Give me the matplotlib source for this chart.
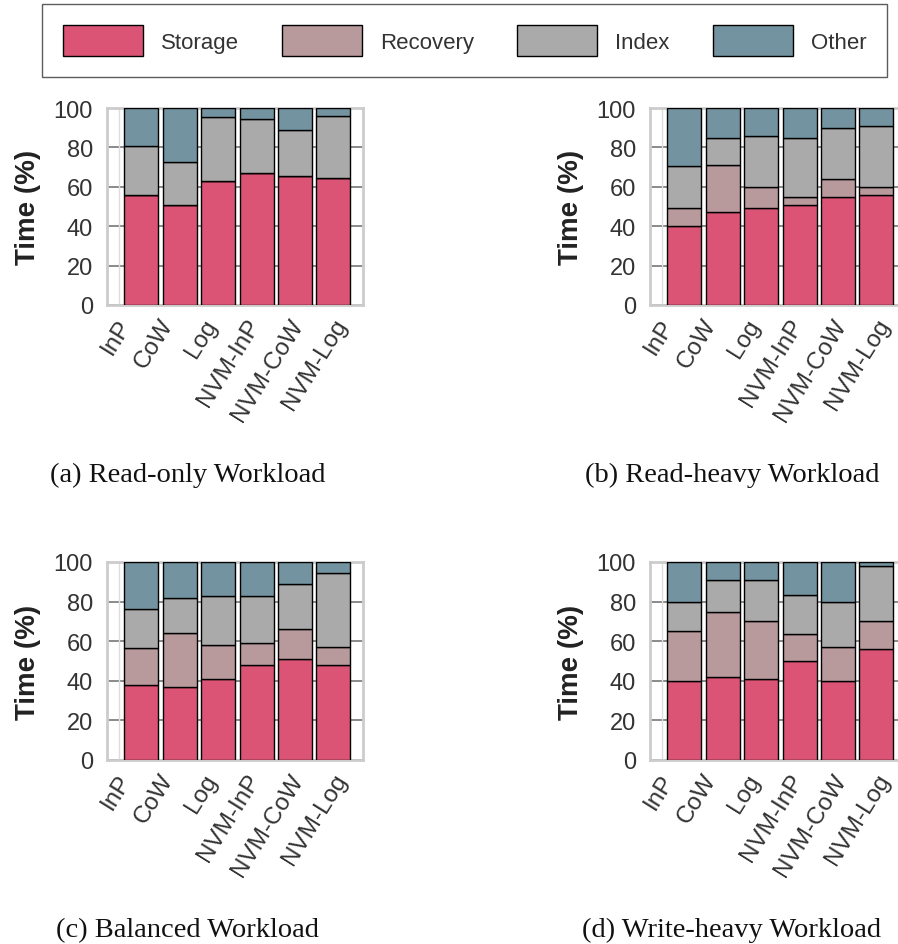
import matplotlib
matplotlib.use("Agg")
import matplotlib.pyplot as plt
import matplotlib.transforms as mtransforms
from matplotlib.patches import Patch
import numpy as np

plt.rcParams['font.family'] = ['Liberation Sans', 'DejaVu Sans']

categories = ["InP", "CoW", "Log", "NVM-InP", "NVM-CoW", "NVM-Log"]
components = ["Storage", "Recovery", "Index", "Other"]
colors = ["#DB5475", "#B89A9C", "#AAAAAA", "#7393A0"]

# (a) Read-only
a_storage = [56, 51, 63, 67, 65.5, 64.5]
a_recovery = [0, 0, 0, 0, 0, 0]
a_index = [24.5, 21.5, 32.5, 27.5, 23.5, 31.5]
a_other = [19.5, 27.5, 4.5, 5.5, 11, 4]

# (b) Read-heavy
b_storage = [40, 47, 49, 51, 55, 56]
b_recovery = [9, 24, 11, 4, 9, 4]
b_index = [21.5, 14, 26, 30, 26, 31]
b_other = [29.5, 15, 14, 15, 10, 9]

# (c) Balanced
c_storage = [38, 37, 41, 48, 51, 48]
c_recovery = [18.5, 27, 17, 11, 15, 9]
c_index = [20, 18, 25, 24, 23, 37.5]
c_other = [23.5, 18, 17, 17, 11, 5.5]

# (d) Write-heavy
d_storage = [40, 42, 41, 50, 40, 56]
d_recovery = [25, 33, 29, 13.5, 17, 14]
d_index = [15, 16, 21, 20, 23, 28]
d_other = [20, 9, 9, 16.5, 20, 2]

captions = ["(a) Read-only Workload", "(b) Read-heavy Workload",
            "(c) Balanced Workload", "(d) Write-heavy Workload"]
yticks = [0, 20, 40, 60, 80, 100]

panels = [
    [a_storage, a_recovery, a_index, a_other],
    [b_storage, b_recovery, b_index, b_other],
    [c_storage, c_recovery, c_index, c_other],
    [d_storage, d_recovery, d_index, d_other],
]

W, H = 898, 945
fig = plt.figure(figsize=(W / 100, H / 100), dpi=100)

# axes rectangles in pixels: left, top, width, height
rects = [(107, 109, 256, 197), (650, 109, 256, 197),
         (107, 563, 256, 198), (650, 563, 256, 198)]
ylabel_x = [28, 571, 28, 571]
cap_x = [188, 732, 188, 732]
cap_y = [482, 482, 937, 937]

x = np.arange(len(categories))
for i, (vals, (l, t, w, h)) in enumerate(zip(panels, rects)):
    ax = fig.add_axes([l / W, 1 - (t + h) / H, w / W, h / H])
    bottom = np.zeros(len(categories))
    for comp, col, v in zip(components, colors, vals):
        v = np.array(v, dtype=float)
        ax.bar(x, v, bottom=bottom, width=0.885, color=col,
               edgecolor='black', linewidth=1, zorder=3)
        bottom += v
    ax.set_xlim(-0.893, 5.77)
    ax.set_ylim(0, 100)
    ax.set_yticks(yticks)
    ax.set_yticklabels([str(v) for v in yticks])
    ax.yaxis.grid(True, color='#777777', linewidth=1.2, zorder=0)
    ax.set_axisbelow(True)
    ax.axvline(-0.58, color='#dddddd', linewidth=1, zorder=1)
    for s in ax.spines.values():
        s.set_color('#cccccc')
        s.set_linewidth(2)
    ax.tick_params(axis='y', length=0, pad=10, labelsize=17, labelcolor='#333333')
    ax.tick_params(axis='x', length=0, pad=7, labelsize=17.5, labelcolor='#333333')
    ax.set_xticks(x)
    ax.set_xticklabels(categories, rotation=58, ha='right', va='top')
    for j, lab in enumerate(ax.get_xticklabels()):
        dx = ((j - 2.5) * 4.8 + 5.5) / 100.0
        lab.set_transform(lab.get_transform() +
                          mtransforms.ScaledTranslation(dx, 0, fig.dpi_scale_trans))
    fig.text(ylabel_x[i] / W, 1 - (t + h / 2) / H, "Time (%)", rotation=90,
             ha='center', va='center', fontsize=20, fontweight='bold', color='#222222')
    fig.text(cap_x[i] / W, 1 - cap_y[i] / H, captions[i], ha='center', va='baseline',
             fontsize=20.5, family=['Liberation Serif', 'DejaVu Serif'], color='#111111')

handles = [Patch(facecolor=c, edgecolor='black', linewidth=1) for c in colors]
leg = fig.legend(handles, components, loc='upper left', ncol=4,
                 bbox_to_anchor=(42 / W, 1 - 5 / H),
                 fontsize=16, handlelength=3.6, handleheight=1.75, handletextpad=0.8,
                 columnspacing=1.95, borderpad=0.95, frameon=True, fancybox=False,
                 borderaxespad=0)
leg.get_frame().set_edgecolor('#333333')
leg.get_frame().set_linewidth(1)
for txt in leg.get_texts():
    txt.set_color('#333333')

fig.savefig("out.png", dpi=100)
